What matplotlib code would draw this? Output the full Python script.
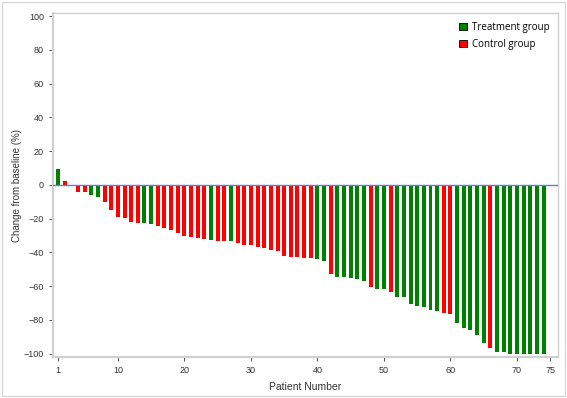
import matplotlib
matplotlib.use("Agg")
import matplotlib.pyplot as plt
from matplotlib.patches import Patch, Rectangle

plt.rcParams["font.family"] = ["Liberation Sans", "DejaVu Sans"]

# waterfall data: best change from baseline (%) per patient, ordered
change = [9.5, 2.5, 0.0, -4.0, -4.0, -6.0, -7.0, -10.0, -15.0, -19.0,
          -19.6, -22.0, -22.5, -22.5, -23.0, -24.5, -25.5, -27.0, -28.5, -30.0,
          -31.0, -31.5, -32.0, -32.5, -33.0, -33.3, -33.5, -34.5, -35.8, -35.8,
          -37.0, -37.6, -38.6, -39.2, -42.0, -43.0, -43.0, -43.3, -43.5, -44.1,
          -45.0, -52.8, -54.6, -54.6, -55.2, -56.0, -56.8, -60.4, -61.4, -61.7,
          -63.7, -66.3, -66.7, -70.3, -72.0, -72.6, -74.0, -75.0, -75.8, -76.6,
          -82.0, -84.9, -85.9, -88.7, -93.6, -96.8, -98.8, -99.2, -100.0, -100.0,
          -100.0, -100.0, -100.0, -100.0]
# T = treatment, C = control
group = list("TCCCCTTCCC"
             "CCCTTCCCCC"
             "CCCTCCTCCC"
             "CCCCCCCCCT"
             "TCTTTTTCTT"
             "CTTTTTTTCC"
             "TTTTTCTTTT"
             "TTTT")
patients = list(range(1, len(change) + 1))

GREEN = "#008000"
RED = "#ff0000"
colors = [GREEN if g == "T" else RED for g in group]

fig = plt.figure(figsize=(5.67, 3.98), dpi=100)
ax = fig.add_axes([0.0935, 0.103, 0.891, 0.864])

ax.bar(patients, change, width=0.6, color=colors, linewidth=0)
ax.axhline(0, color="#5b7fd6", lw=1.0, zorder=3)

ax.set_xlim(0.25, 76.2)
ax.set_ylim(-102, 101.8)
ax.set_xticks([1, 10, 20, 30, 40, 50, 60, 70, 75])
ax.set_yticks(range(-100, 101, 20))
ax.tick_params(labelsize=6.5, colors="#333333", length=3, width=0.6)
for t in ax.get_xticklines() + ax.get_yticklines():
    t.set_color("#aaaaaa")
for s in ax.spines.values():
    s.set_color("#d0d0d0")
    s.set_linewidth(1.0)
for s in ["left", "bottom"]:
    ax.spines[s].set_linewidth(1.6)

ax.set_xlabel("Patient Number", fontsize=7.5, color="#333333", labelpad=5)
ax.set_ylabel("Change from baseline (%)", fontsize=7, color="#333333")
ax.yaxis.set_label_coords(-0.062, 0.5)

handles = [Patch(facecolor=GREEN, edgecolor="black", lw=0.6, label="Treatment group"),
           Patch(facecolor=RED, edgecolor="black", lw=0.6, label="Control group")]
ax.legend(handles=handles, loc="upper right", frameon=False,
          handlelength=0.8, handleheight=0.8, handletextpad=0.5,
          borderaxespad=0.5, labelspacing=0.6,
          prop={"family": "Open Sans", "size": 7})

# thin outer frame of the picture
fig.patches.append(Rectangle((0.003, 0.004), 0.993, 0.992, transform=fig.transFigure,
                             fill=False, ec="#d8d8d8", lw=1.0))

fig.savefig("out.png", dpi=100)
